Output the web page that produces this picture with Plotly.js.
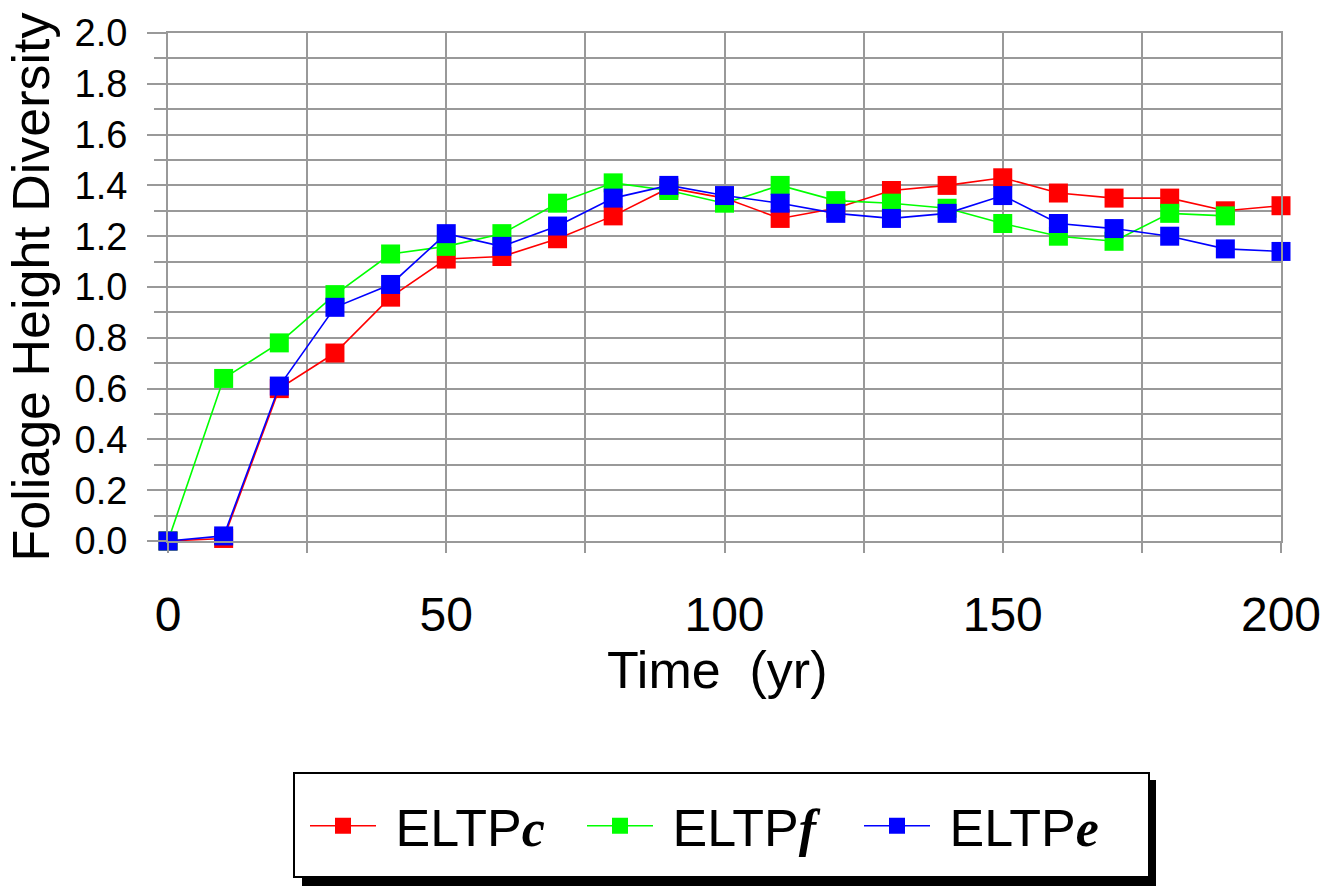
<!DOCTYPE html>
<html>
<head>
<meta charset="utf-8">
<script src="https://cdn.plot.ly/plotly-3.0.1.min.js"></script>
<style>
  html, body { margin: 0; padding: 0; background: #fff; }
  #chart { width: 1331px; height: 886px; }
</style>
</head>
<body>
<div id="chart"></div>
<script>
// Data
const years = [0, 10, 20, 30, 40, 50, 60, 70, 80, 90, 100, 110, 120, 130, 140, 150, 160, 170, 180, 190, 200];
const eltpC = [0.00, 0.01, 0.60, 0.74, 0.96, 1.11, 1.12, 1.19, 1.28, 1.39, 1.35, 1.27, 1.31, 1.38, 1.40, 1.43, 1.37, 1.35, 1.35, 1.30, 1.32];
const eltpF = [0.00, 0.64, 0.78, 0.97, 1.13, 1.16, 1.21, 1.33, 1.41, 1.38, 1.33, 1.40, 1.34, 1.33, 1.31, 1.25, 1.20, 1.18, 1.29, 1.28, null];
const eltpE = [0.00, 0.02, 0.61, 0.92, 1.01, 1.21, 1.16, 1.24, 1.35, 1.40, 1.36, 1.33, 1.29, 1.27, 1.29, 1.36, 1.25, 1.23, 1.20, 1.15, 1.14];

const seriesNames = ['ELTP', 'ELTP', 'ELTP'];
const seriesSuffix = ['c', 'f', 'e'];
const seriesColors = ['#ff0000', '#00ff00', '#0000ff'];
const seriesValues = [eltpC, eltpF, eltpE];

const italicStyle = "font-family:'Liberation Serif';font-style:italic;font-weight:bold";

const traces = seriesValues.map((vals, i) => ({
  x: years,
  y: vals,
  type: 'scatter',
  mode: 'lines+markers',
  name: '&nbsp;' + seriesNames[i] + '<span style="' + italicStyle + '">' + seriesSuffix[i] + '</span>',
  line: { color: seriesColors[i], width: 1.6 },
  marker: { symbol: 'square', size: 19, color: seriesColors[i], line: { width: 0 } },
  cliponaxis: false,
  connectgaps: false
}));

const gridColor = '#999999';
const font = 'Liberation Sans, Arial, sans-serif';

const layout = {
  width: 1331,
  height: 886,
  margin: { l: 168, r: 50, t: 33, b: 345 },
  paper_bgcolor: '#ffffff',
  plot_bgcolor: '#ffffff',
  showlegend: true,
  font: { family: font, color: '#000000' },
  xaxis: {
    range: [0, 200],
    dtick: 50,
    tick0: 0,
    showgrid: true,
    gridcolor: gridColor,
    gridwidth: 2,
    zeroline: false,
    showline: true,
    linecolor: gridColor,
    linewidth: 2,
    mirror: true,
    ticks: 'outside',
    ticklen: 10,
    tickwidth: 2,
    tickcolor: gridColor,
    ticklabelstandoff: 20,
    tickfont: { size: 48, family: font, color: '#000' },
    minor: { dtick: 25, showgrid: true, gridcolor: gridColor, gridwidth: 2, ticks: 'outside', ticklen: 10, tickwidth: 2, tickcolor: gridColor },
    title: { text: 'Time&nbsp;&nbsp;(yr)&nbsp;', font: { size: 52, family: font, color: '#000' }, standoff: 8 }
  },
  yaxis: {
    range: [0, 2],
    dtick: 0.2,
    tick0: 0,
    tickformat: '.1f',
    showgrid: true,
    gridcolor: gridColor,
    gridwidth: 2,
    zeroline: false,
    showline: true,
    linecolor: gridColor,
    linewidth: 2,
    mirror: true,
    ticks: 'outside',
    ticklen: 19,
    tickwidth: 2,
    tickcolor: gridColor,
    ticklabelstandoff: 12,
    tickfont: { size: 38, family: font, color: '#000' },
    minor: { dtick: 0.1, showgrid: true, gridcolor: gridColor, gridwidth: 2, ticks: 'outside', ticklen: 12, tickwidth: 2, tickcolor: gridColor },
    title: { text: 'Foliage Height Diversity', font: { size: 52, family: font, color: '#000' }, standoff: 8 }
  },
  legend: {
    orientation: 'h',
    x: (305 - 168) / 1113,
    y: (541 - 826) / 508,
    xanchor: 'left',
    yanchor: 'middle',
    bgcolor: 'rgba(0,0,0,0)',
    borderwidth: 0,
    font: { size: 52, family: font, color: '#000' },
    itemwidth: 66,
    entrywidth: 196,
    tracegroupgap: 0
  },
  shapes: [
    // drop shadow of the legend box
    { type: 'rect', xref: 'paper', yref: 'paper', layer: 'above',
      x0: (302 - 168) / 1113, x1: (1156 - 168) / 1113,
      y0: (541 - 900) / 508, y1: (541 - 780) / 508,
      fillcolor: '#000000', line: { width: 0 } },
    // legend box
    { type: 'rect', xref: 'paper', yref: 'paper', layer: 'above',
      x0: (294 - 168) / 1113, x1: (1149 - 168) / 1113,
      y0: (541 - 877) / 508, y1: (541 - 773) / 508,
      fillcolor: '#ffffff', line: { width: 2, color: '#000000' } }
  ]
};

Plotly.newPlot('chart', traces, layout, { displayModeBar: false, staticPlot: true });
</script>
</body>
</html>
